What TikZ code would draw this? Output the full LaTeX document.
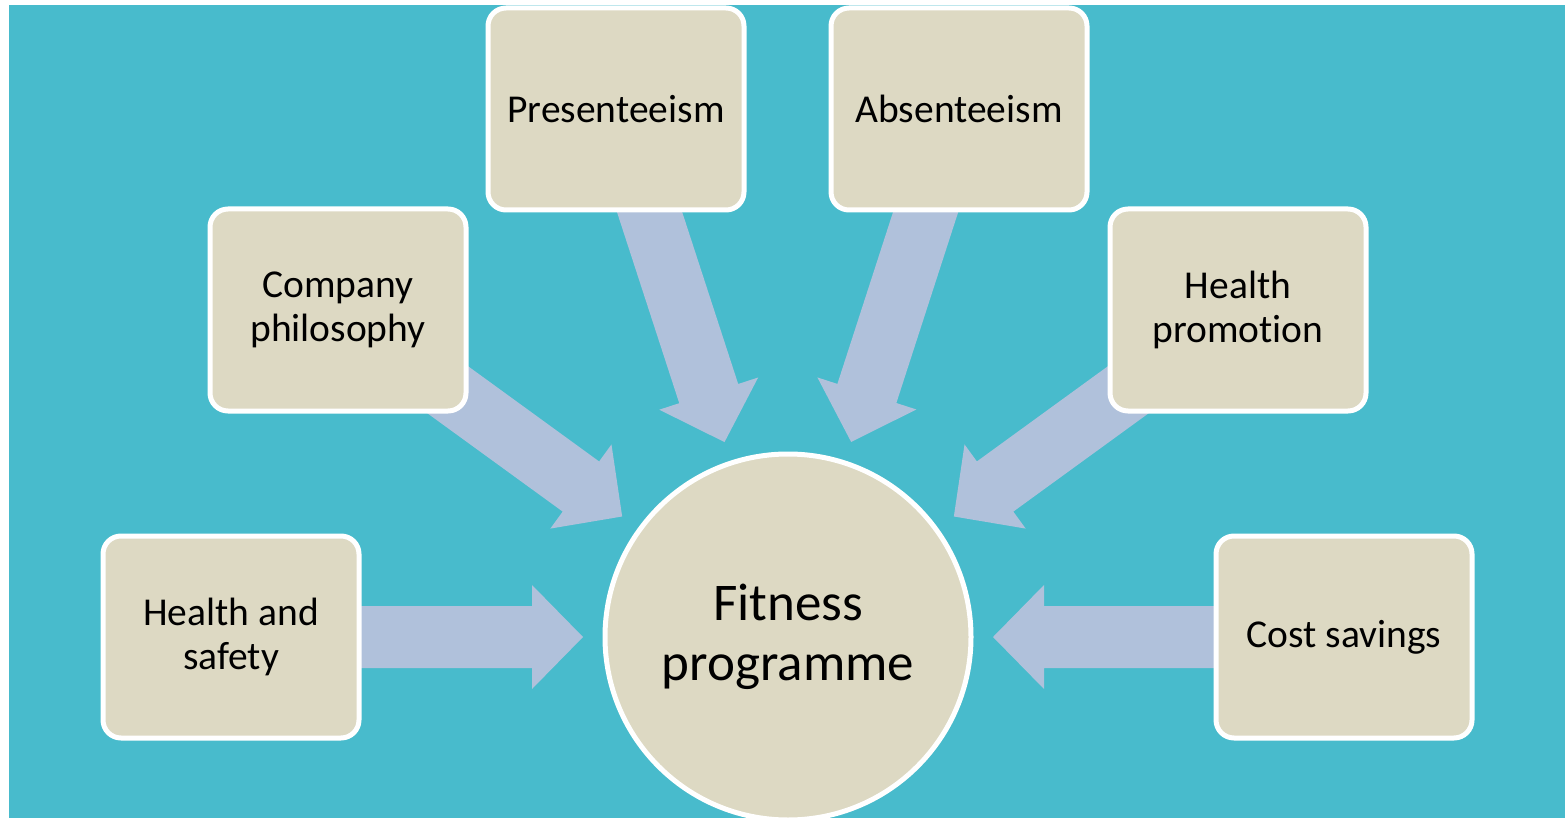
\documentclass[tikz,border=0pt]{standalone}
\usepackage{fontspec}
\setmainfont{Carlito}[Ligatures=NoCommon]
\usetikzlibrary{calc}
\definecolor{bgteal}{RGB}{72,187,204}
\definecolor{boxtan}{RGB}{221,217,195}
\definecolor{arrowblue}{RGB}{176,193,219}
\tikzset{
  box/.style={draw=white, line width=5pt, fill=boxtan, rounded corners=18pt,
    minimum width=256pt, minimum height=202pt, align=center,
    font=\fontsize{39.5}{44}\selectfont, text=black, inner sep=0pt},
  hub/.style={draw=white, line width=5pt, fill=boxtan, circle, minimum size=366pt,
    align=center, font=\fontsize{53}{60}\selectfont, text=black, inner sep=0pt},
  flowarrow/.style={fill=arrowblue}
}
\begin{document}
\begin{tikzpicture}[x=1pt,y=-1pt]
\useasboundingbox (0,0) rectangle (1565,818);
\fill[bgteal] (9,5) rectangle (1565,818);
% node positions (drawn later, on top of arrows)
\coordinate (hubc) at (788,637);
\coordinate (hsc) at (231,637);
\coordinate (cpc) at (338,310);
\coordinate (prc) at (616,109);
\coordinate (abc) at (959,109);
\coordinate (hpc) at (1238,310);
\coordinate (csc) at (1344,637);
% arrows
\foreach \s in {hsc,cpc,prc,abc,hpc,csc}{
  \coordinate (T) at ($(hubc)!205pt!(\s)$);
  \coordinate (B) at ($(T)!51pt!(\s)$);
  \fill[flowarrow] ($(\s)!31pt!90:(T)$) -- ($(B)!31pt!-90:(\s)$) -- ($(B)!52pt!-90:(\s)$)
    -- (T) -- ($(B)!52pt!90:(\s)$) -- ($(B)!31pt!90:(\s)$) -- ($(\s)!31pt!-90:(T)$) -- cycle;
}
% boxes
\node[box] (hs) at (hsc) {Health and\\safety};
\node[box] (cp) at (cpc) {Company\\philosophy};
\node[box] (pr) at (prc) {Presenteeism};
\node[box] (ab) at (abc) {Absenteeism};
\node[box] (hp) at (hpc) {Health\\promotion};
\node[box] (cs) at (csc) {Cost savings};
\node[hub] (hub) at (hubc) {Fitness\\programme};
\end{tikzpicture}
\end{document}
